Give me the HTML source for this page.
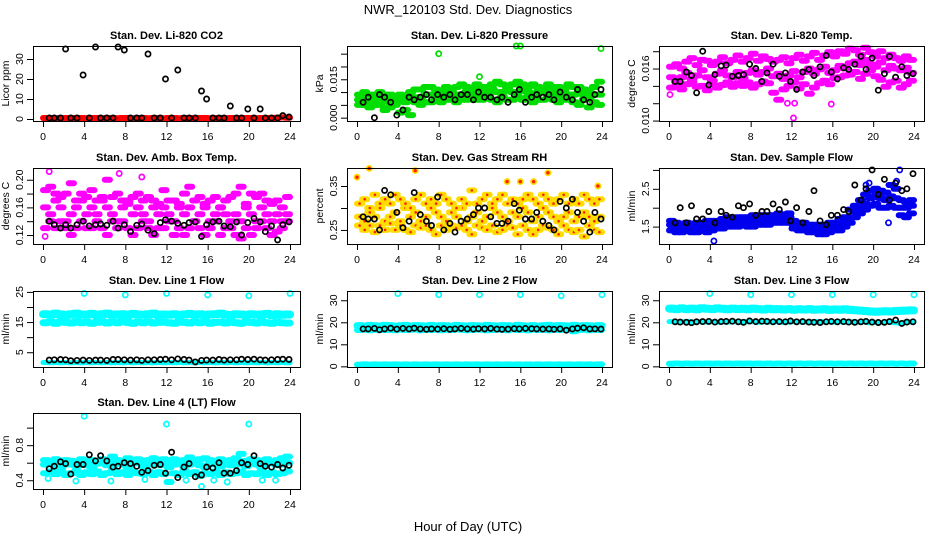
<!DOCTYPE html>
<html><head><meta charset="utf-8">
<style>
body{margin:0;background:#fff;}
svg{display:block;font-family:"Liberation Sans",sans-serif;}
.tt{font-weight:bold;font-size:11px;text-anchor:middle;}
.tk{font-size:10.5px;}
</style></head>
<body>
<svg id="chart" width="936" height="540" viewBox="0 0 936 540">
<text x="468" y="14" font-size="13" text-anchor="middle">NWR_120103  Std. Dev. Diagnostics</text>
<text x="468" y="531" font-size="13" text-anchor="middle">Hour of Day (UTC)</text>
</svg>
<script>
// shared hours
const cloudHours=[0.25,0.75,1.25,1.75,2.25,2.75,3.25,3.75,4.25,4.75,5.25,5.75,6.25,6.75,7.25,7.75,8.25,8.75,9.25,9.75,10.25,10.75,11.25,11.75,12.25,12.75,13.25,13.75,14.25,14.75,15.25,15.75,16.25,16.75,17.25,17.75,18.25,18.75,19.25,19.75,20.25,20.75,21.25,21.75,22.25,22.75,23.25,23.75];
const blackHours=[0.6,1.1,1.7,2.2,2.7,3.3,3.9,4.5,5.1,5.6,6.2,6.8,7.3,7.9,8.5,9.1,9.6,10.2,10.8,11.4,11.9,12.5,13.1,13.7,14.2,14.8,15.4,15.9,16.5,17.1,17.6,18.2,18.8,19.3,19.9,20.5,21.1,21.6,22.2,22.8,23.3,23.9];
const xTicks=[0,4,8,12,16,20,24];
const spikeHours=[4,8,12,16,20,24];

// P1 CO2
const co2Red=[0.5,0.5,0.4,0.5,0.5,0.4,0.5,0.5,0.4,0.5,0.5,0.4,0.5,0.5,0.4,0.5,0.5,0.4,0.5,0.5,0.4,0.5,0.5,0.4,0.5,0.5,0.4,0.5,0.5,0.4,0.5,0.5,0.4,0.5,0.5,0.4,0.5,0.5,0.4,0.5,0.5,0.4,0.5,0.5,0.4,0.6,0.8,0.6];
const co2Black=[0.5,0.5,0.5,35,0.5,0.5,22,0.5,36,0.5,0.5,0.5,36,34.5,0.5,0.5,0.5,32.5,0.5,0.5,20,0.5,24.5,0.5,0.5,0.5,14,10,0.5,0.5,0.5,6.5,0.5,0.5,5,0.5,5,0.5,0.5,0.5,1.7,1];
// P2 pressure (x1e-3 kPa)
const presA=[7,7,6,7,8,7,6,7,7,6,8,8,8,9,9,8,9,9,10,9,9,10,10,9,10,10,11,10,10,11,10,10,11,10,9,10,11,10,10,9,10,9,9,10,9,8,9,9];
const presB=[5,5,4,5,5,3,4,5,2,3,1,6,5,6,6,7,6,7,7,6,7,7,8,7,7,8,7,6,8,7,7,8,7,8,6,7,7,8,7,6,7,7,6,5,7,4,6,5];
const presC=[9,10,9,9,10,9,9,8,9,8,10,11,11,12,12,11,10,12,11,12,13,12,11,13,12,12,13,14,13,12,13,14,13,12,13,12,11,13,12,12,11,13,12,12,11,10,12,14];
const presOutX=[8,12,15.6,16,23.9], presOutY=[25,16,28,28,27];
const presBlack=[6,8,0,9,8,6,1,3,8,7,8,9,7,9,8,9,7,9,9,7,10,8,8,7,8,6,9,11,6,8,9,8,9,7,10,8,7,11,7,6,9,11];
// P3 Li-820 temp (x1e-3 C)
const tmpA=[15,14.5,15,15.5,14.8,15.2,15.8,15,14.6,15.4,15.8,15.2,15,15.6,14.9,15.5,15.8,15.3,15.6,16,15.1,15.4,14.8,15.2,15.7,15,15.6,16,15.4,15.9,16.2,15.5,15.8,16.3,16,16.6,16.8,16.4,17,16.5,16.2,16.7,15.8,16.3,16,15.8,16.1,15.5];
const tmpB=[13.8,14,13.6,14.2,14.4,13.9,14,13.5,14.2,13.8,14.1,14.4,13.9,14.3,14,14.4,13.8,14.2,14.5,14.3,13.2,12.4,13.6,14,14.4,13.7,14.2,13.1,13.8,14.3,14.6,14.2,14.9,15,15.2,15.3,15.6,14.8,15.4,15.8,15.1,14.7,13.9,14.4,14.6,13.8,14.2,14.6];
const tmpC=[16.2,16.5,16,16.8,17.2,16.4,17,16.9,16.4,16.8,17.3,16.6,17,17.5,16.8,17.2,17.7,16.9,17.4,17.1,16.8,17,17.3,16.6,17.2,17.6,16.9,17.4,17.8,17,17.5,17.9,17.4,18,17.7,18.3,18.1,17.6,18.4,17.9,17.4,18,17.2,17.6,17.2,16.9,17.4,17];
const tmpOutX=[0.1,11.6,12.2,12.3,15.9], tmpOutY=[13,12,10.3,12,11.9];
const tmpBlack=[14.5,14.5,15.6,15.2,13.2,18.0,14.1,15.3,16.3,16.4,15.1,15.2,15.3,16.5,16.0,14.5,15.5,16.5,15.1,15.5,14.5,13.6,15.6,15.9,15.2,16.2,17.5,15.6,14.8,16.1,15.9,16.5,17.4,15.9,17.2,13.5,15.4,17.4,15.0,16.2,15.2,15.4];
// P4 amb box (x1e-2 C)
const ambA=[16,15,17,16,14,15,16,17,15,16,15,17,16,15,14,16,17,15,16,15,14,16,15,16,15,14,16,15,16,14,15,16,14,15,16,15,14,15,14,16,15,14,16,15,14,15,14,15];
const ambB=[13,14,13,14,13,12,13,14,13,13,14,13,12,14,13,14,13,12,13,14,13,12,13,13,14,12,13,12,13,14,13,12,13,14,12,13,13,12,11.5,13,12,13,14,13,12,12.5,13,14];
const ambC=[18.5,19,18,17.5,18,19.5,17,18,17.5,18.5,17,17.5,20,17.5,18,17,16.5,17.5,18,17,17.5,17,16.5,18.5,17,17,16.5,18,19,17,17.5,16.5,17,17.5,16,17,17.5,18,19,16.5,18,17.5,18,17,16.5,17,16,17.5];
const ambOutX=[0.6,7.4,9.6,0.2,19.3], ambOutY=[21.2,20.9,20.4,11.8,11.8];
const ambBlack=[14,13.5,13,13.5,13,13.5,14,13.3,13.5,13.6,13.4,14,13,13.5,12.5,13.4,13.6,12.7,12.2,13.8,14.2,14,13.7,13.4,13.8,13.9,11.8,13.5,13.9,14,13.3,13.2,13.9,12,13.8,14.4,13.9,12.5,13.3,11.3,13.5,13.9];
// P5 RH (x1e-2)
const rhA=[28,27,29,28,30,27,28,29,27,30,28,29,27,28,30,29,28,27,29,28,30,27,28,29,27,28,30,29,28,27,29,28,30,29,27,28,30,29,28,27,28,29,27,28,29,28,27,28];
const rhB=[26,25,26,24.5,26,25,26.5,25,26,25,24.5,26,25.5,26,25,24,26,25,26,25.5,26,25,24,26,25.5,25,26,24.5,25,26,25.5,24,26,25,24,25,26,25.5,25,24,26,25,24.5,25,23.5,26,25,24.5];
const rhC=[31,32,30,33,31,32,31,33,32,31,30,32,33,31,32,31,33,32,31,30,32,31,34,31,32,33,31,32,33,31,32,31,32,33,32,31,33,32,31,32,33,31,32,31,33,32,31,32];
const rhOutX=[0,1.2,5.7,14.7,16,17.3,18.7,23.6], rhOutY=[37,39,38.5,36,36,36,38,35];
const rhBlack=[28,27.5,27.5,25,34,33,29,25.5,27,33.5,28.5,27,26,32.5,25,26.5,24.5,27,27.5,28.5,30,30,28,26.5,26.5,27,31,29.5,27.5,27.5,29,27,26,25,31.5,30,32,29,27,24.5,29,27.5];
// P6 sample flow
const sfA=[1.55,1.5,1.45,1.5,1.45,1.5,1.45,1.5,1.5,1.55,1.55,1.6,1.6,1.6,1.65,1.6,1.65,1.65,1.7,1.65,1.7,1.7,1.7,1.75,1.55,1.5,1.5,1.45,1.45,1.4,1.4,1.45,1.5,1.5,1.6,1.75,1.9,2.0,2.1,2.25,2.3,2.25,2.2,2.3,2.25,2.0,2.0,2.05];
const sfB=[1.4,1.35,1.35,1.4,1.35,1.35,1.4,1.35,1.4,1.45,1.45,1.5,1.5,1.5,1.55,1.5,1.5,1.55,1.55,1.55,1.6,1.6,1.6,1.6,1.45,1.4,1.4,1.35,1.35,1.3,1.3,1.35,1.4,1.4,1.5,1.6,1.75,1.85,1.95,2.05,2.1,2.0,2.0,2.05,2.0,1.8,1.75,1.85];
const sfC=[1.65,1.6,1.55,1.6,1.55,1.6,1.6,1.65,1.65,1.65,1.7,1.75,1.7,1.75,1.75,1.75,1.8,1.8,1.8,1.8,1.8,1.85,1.8,1.85,1.65,1.6,1.6,1.55,1.55,1.55,1.55,1.6,1.6,1.7,1.75,1.95,2.05,2.2,2.35,2.45,2.5,2.45,2.4,2.6,2.5,2.2,2.15,2.2];
const sfOutX=[4.4,19.3,19.6,21.5,22.3,22.6], sfOutY=[1.12,2.6,2.65,1.6,2.7,3.0];
const sfBlack=[1.6,2.0,1.6,2.05,1.7,1.7,1.9,1.6,1.9,1.8,1.75,2.05,2.0,2.1,1.8,1.9,1.9,2.1,1.95,2.15,1.65,2.0,1.6,1.9,2.45,1.65,1.55,1.8,1.8,1.95,1.9,2.6,2.2,2.5,3.0,2.35,2.75,2.2,2.65,2.45,2.5,2.9];
// P7 line 1
const l1Hi=[17.6,17.4,17.8,17.5,17.3,17.6,17.8,17.4,17.5,17.7,17.3,17.6,17.8,17.4,17.5,17.6,17.3,17.7,17.5,17.4,17.6,17.8,17.3,17.5,17.4,17.6,17.3,17.5,17.7,17.4,17.6,17.3,17.5,17.6,17.8,17.4,17.3,17.6,17.5,17.3,17.6,17.4,17.5,17.7,17.3,17.6,17.4,17.5];
const l1Lo=[14.8,15,14.6,15.1,14.9,14.7,15.2,14.8,15,14.6,14.9,15.1,14.7,15,14.8,15.2,14.9,14.6,15,14.8,15.1,14.7,14.9,15,14.8,14.6,15.1,14.9,14.7,15,14.8,15.2,14.6,14.9,15,14.7,15.1,14.8,14.6,15,14.9,14.7,15.1,14.8,14.6,15,14.8,14.7];
const l1Bot=[1.6,1.5,1.6,1.5,1.6,1.5,1.6,1.5,1.6,1.5,1.6,1.5,1.6,1.5,1.6,1.5,1.6,1.5,1.6,1.5,1.6,1.5,1.6,1.5,1.6,1.5,1.6,1.5,1.6,1.5,1.6,1.5,1.6,1.5,1.6,1.5,1.6,1.5,1.6,1.5,1.6,1.5,1.6,1.5,1.6,1.5,1.6,1.5];
const l1Spike=[24.5,24,24.5,24,23.7,24.5];
const l1Black=[2.4,2.5,2.6,2.5,2.2,2.3,2.4,2.3,2.4,2.4,2.3,2.6,2.6,2.5,2.4,2.5,2.3,2.5,2.5,2.6,2.7,2.5,2.8,2.6,2.4,1.8,2.3,2.4,2.4,2.6,2.4,2.5,2.5,2.7,2.6,2.7,2.5,2.4,2.5,2.6,2.7,2.6];
// P8 line 2
const l2Hi=[18.5,18.2,18.6,18.4,18.3,18.6,18.5,18.2,18.4,18.6,18.3,18.5,18.4,18.2,18.6,18.3,18.5,18.4,18.2,18.6,18.4,18.3,18.5,18.4,18.2,18.6,18.4,18.3,18.5,18.4,18.2,18.6,18.4,18.3,18.5,18.2,18.4,18.6,18.3,18.5,18.4,18.2,18.6,18.3,18.5,18.4,18.2,18.5];
const l2Lo=[16.5,16.7,16.4,16.6,16.8,16.5,16.6,16.4,16.7,16.5,16.6,16.8,16.4,16.6,16.5,16.7,16.4,16.6,16.5,16.8,16.6,16.4,16.5,16.7,16.6,16.4,16.5,16.7,16.6,16.4,16.8,16.5,16.6,16.4,16.7,16.5,16.6,16.4,16.7,16.5,16.6,16.8,15.9,16.5,16.6,16.4,16.7,16.5];
const l2Bot=[0.8,0.9,0.8,0.9,0.8,0.9,0.8,0.9,0.8,0.9,0.8,0.9,0.8,0.9,0.8,0.9,0.8,0.9,0.8,0.9,0.8,0.9,0.8,0.9,0.8,0.9,0.8,0.9,0.8,0.9,0.8,0.9,0.8,0.9,0.8,0.9,0.8,0.9,0.8,0.9,0.8,0.9,0.8,0.9,0.8,0.9,0.8,0.9];
const l2Spike=[33,32.5,32.5,32.5,32,32.5];
const l2Black=[17,17,17.2,16.6,17,17.3,16.9,17.2,17,17.3,17,16.8,17,16.9,17.1,16.8,17,17.2,17,16.9,17.1,17,17.2,16.9,16.8,16.9,17.1,17,17.2,17.1,17,16.9,17,16.8,17,16.4,17,17.3,17.5,17,17,16.9];
// P9 line 3
const l3Hi=[26.2,26,26.3,26,26.2,25.9,26.4,26.1,26,26.3,26.1,25.9,26.2,26,26.1,25.9,26.2,26,25.8,26.1,25.9,26,25.8,26,25.7,25.9,25.8,26,25.7,25.8,25.9,25.6,25.8,25.7,25.9,25.6,25.5,25.3,25.1,24.9,24.8,24.9,25.0,24.9,25.1,25.2,25.3,25.4];
const l3Lo=[20.3,20.1,20.2,20.4,20,20.2,20.3,20.1,20.2,20,20.3,20.1,20.2,20.4,20.1,20.3,20.2,20,20.2,20.1,20.3,20.2,20,20.1,20.3,20.2,20.1,20,20.2,20.3,20.1,20.2,20,20.2,20.1,20.3,20,20.1,20.2,19.8,20,19.9,20.1,20,19.8,19.6,20,20.2];
const l3Bot=[1.2,1.3,1.2,1.3,1.2,1.3,1.2,1.3,1.2,1.3,1.2,1.3,1.2,1.3,1.2,1.3,1.2,1.3,1.2,1.3,1.2,1.3,1.2,1.3,1.2,1.3,1.2,1.3,1.2,1.3,1.2,1.3,1.2,1.3,1.2,1.3,1.2,1.3,1.2,1.3,1.2,1.3,1.2,1.3,1.2,1.3,1.2,1.3];
const l3Spike=[33,32.5,32.5,32.5,32.5,32.5];
const l3Black=[20.2,20.1,20,19.8,20.2,20.3,20.4,20.1,20.3,20.4,20.5,20.2,20,20.6,20.3,20.5,20.4,20.2,20.3,20.2,20.6,20.2,20.3,20.1,20,19.9,20.2,20.4,20.2,20.3,20.1,20,20.2,20.4,20.1,19.9,20,20.3,21,19.5,20.1,20.2];
// P10 line 4
const l4A=[0.58,0.6,0.57,0.55,0.6,0.58,0.56,0.6,0.57,0.55,0.59,0.6,0.57,0.56,0.6,0.58,0.55,0.59,0.6,0.56,0.58,0.6,0.57,0.59,0.55,0.58,0.6,0.56,0.58,0.6,0.57,0.55,0.6,0.58,0.56,0.59,0.57,0.6,0.58,0.56,0.6,0.58,0.55,0.59,0.6,0.57,0.58,0.6];
const l4B=[0.48,0.5,0.47,0.5,0.46,0.48,0.5,0.46,0.49,0.47,0.5,0.46,0.48,0.5,0.47,0.49,0.46,0.5,0.48,0.47,0.5,0.46,0.49,0.47,0.38,0.48,0.46,0.5,0.47,0.49,0.45,0.48,0.47,0.5,0.46,0.49,0.47,0.48,0.5,0.46,0.48,0.47,0.5,0.46,0.49,0.47,0.48,0.5];
const l4C=[0.63,0.62,0.64,0.61,0.63,0.62,0.6,0.64,0.62,0.63,0.61,0.64,0.62,0.67,0.63,0.62,0.65,0.63,0.64,0.61,0.63,0.65,0.62,0.64,0.6,0.64,0.62,0.63,0.66,0.62,0.64,0.65,0.63,0.61,0.64,0.62,0.63,0.65,0.7,0.62,0.64,0.63,0.62,0.64,0.61,0.63,0.65,0.67];
const l4OutX=[4,12,20,0.5,3.2,6.6,9.9,13.9,15.4,16.6,17.9,21.3,22.6], l4OutY=[1.13,1.04,1.04,0.42,0.39,0.39,0.41,0.4,0.33,0.4,0.38,0.4,0.4];
const l4Black=[0.53,0.56,0.61,0.59,0.47,0.58,0.58,0.69,0.62,0.68,0.62,0.55,0.56,0.6,0.59,0.56,0.49,0.51,0.57,0.58,0.48,0.72,0.43,0.55,0.59,0.44,0.46,0.55,0.54,0.6,0.48,0.48,0.51,0.6,0.58,0.68,0.59,0.56,0.55,0.58,0.54,0.57];

const NS='http://www.w3.org/2000/svg';
const svg=document.getElementById('chart');
function mk(tag,attrs,parent){const e=document.createElementNS(NS,tag);for(const k in attrs)e.setAttribute(k,attrs[k]);(parent||svg).appendChild(e);return e;}

const colX=[[33,300],[347,612],[659,924]];
const rowY=[[46,121],[168,244],[291,367],[413,489]];

function panel(p){
  const [x0,x1]=colX[p.col],[y0,y1]=rowY[p.row];
  const g=mk('g',{});
  
  
  const xs=v=>x0+10+(v/24)*(x1-x0-20);
  const ys=v=>y1-(v-p.ymin)/(p.ymax-p.ymin)*(y1-y0);
  const t=mk('text',{x:(x0+x1)/2,y:y0-7,class:'tt'},g);t.textContent=p.title;
  
  
  for(const s of p.series){
    const sg=mk('g',{fill:s.fill||'none',stroke:s.color,'stroke-width':s.sw||1.7,'stroke-linecap':'round'},g);
    
    
    s.y.forEach((v,i)=>{
      let c;
      if(s.smear){
        // cloud point drawn as a smeared blob spanning its quarter-hour
        c=mk('line',{x1:xs(s.x[i]-0.25).toFixed(1),x2:xs(s.x[i]+0.25).toFixed(1),y1:ys(v).toFixed(1),y2:ys(v).toFixed(1),'stroke-width':s.smear},sg);
        if(s.dot){const d=mk('circle',{cx:xs(s.x[i]).toFixed(1),cy:ys(v).toFixed(1),r:1.3,fill:s.dot,stroke:'none'},sg);
          
          }
      } else {
        c=mk('circle',{cx:xs(s.x[i]).toFixed(1),cy:ys(v).toFixed(1),r:s.r||2.6},sg);
      }
      
      
    });
  }
  const b=mk('rect',{x:x0+0.5,y:y0+0.5,width:x1-x0,height:y1-y0,fill:'none',stroke:'#000','stroke-width':1},g);
  
  
  const xa=mk('g',{stroke:'#000','stroke-width':1},g);
  
  
  mk('line',{x1:xs(0),x2:xs(24),y1:y1+0.5,y2:y1+0.5},xa);
  xTicks.forEach(v=>{
    mk('line',{x1:xs(v)+0.5,x2:xs(v)+0.5,y1:y1,y2:y1+6},xa);
    const tx=mk('text',{x:xs(v),y:y1+19,'text-anchor':'middle',class:'tk',stroke:'none'},xa);tx.textContent=v;
    
    
  });
  const ya=mk('g',{stroke:'#000','stroke-width':1},g);
  
  
  mk('line',{x1:x0+0.5,x2:x0+0.5,y1:ys(p.yt[0]),y2:ys(p.yt[p.yt.length-1])},ya);
  p.yt.forEach((v,i)=>{
    mk('line',{x1:x0-6,x2:x0,y1:ys(v)+0.5,y2:ys(v)+0.5},ya);
    if(p.yl[i]){const ty=ys(v),tx=x0-10;
      const tl=mk('text',{x:tx,y:ty,'text-anchor':'middle',class:'tk',stroke:'none',transform:`rotate(-90 ${tx} ${ty})`},ya);tl.textContent=p.yl[i];
      
      }
  });
  const lx=x0-24,ly=(y0+y1)/2;
  const yl=mk('text',{x:lx,y:ly,'text-anchor':'middle','font-size':'10.5',transform:`rotate(-90 ${lx} ${ly})`},g);yl.textContent=p.ylab;
  
  
}
const CY='#00ffff',BK='#000';
function cl(name,y,color,extra){return Object.assign({name,x:cloudHours,y,color,smear:6},extra||{});}
function bl(y){return {name:'black-series',x:blackHours,y,color:BK};}
panel({name:'panel-co2',col:0,row:0,title:'Stan. Dev. Li-820 CO2',ylab:'Licor ppm',ymin:-1,ymax:36.5,yt:[0,10,20,30],yl:['0','10','20','30'],
 series:[cl('red-series',co2Red,'#ff0000',{smear:6}),bl(co2Black)]});
panel({name:'panel-pressure',col:1,row:0,title:'Stan. Dev. Li-820 Pressure',ylab:'kPa',ymin:-1.3,ymax:28,yt:[0,5,10,15,20,25],yl:['0.000','','','0.015','',''],
 series:[cl('green-a',presA,'#00dd00'),cl('green-b',presB,'#00dd00'),cl('green-c',presC,'#00dd00'),{name:'green-outliers',x:presOutX,y:presOutY,color:'#00dd00'},bl(presBlack)]});
panel({name:'panel-temp',col:2,row:0,title:'Stan. Dev. Li-820 Temp.',ylab:'degrees C',ymin:9.95,ymax:18.6,yt:[10,12,14,16,18],yl:['0.010','','','0.016',''],
 series:[cl('magenta-a',tmpA,'#ff00ff'),cl('magenta-b',tmpB,'#ff00ff'),cl('magenta-c',tmpC,'#ff00ff'),{name:'magenta-outliers',x:tmpOutX,y:tmpOutY,color:'#ff00ff'},bl(tmpBlack)]});
panel({name:'panel-ambbox',col:0,row:1,title:'Stan. Dev. Amb. Box Temp.',ylab:'degrees C',ymin:10.7,ymax:21.7,yt:[12,14,16,18,20],yl:['0.12','','0.16','','0.20'],
 series:[cl('magenta-a',ambA,'#ff00ff'),cl('magenta-b',ambB,'#ff00ff'),cl('magenta-c',ambC,'#ff00ff'),{name:'magenta-outliers',x:ambOutX,y:ambOutY,color:'#ff00ff'},bl(ambBlack)]});
panel({name:'panel-rh',col:1,row:1,title:'Stan. Dev. Gas Stream RH',ylab:'percent',ymin:21.8,ymax:39.1,yt:[25,30,35],yl:['0.25','','0.35'],
 series:[cl('rh-a',rhA,'#ffdd00',{dot:'#ff2200'}),cl('rh-b',rhB,'#ffdd00',{dot:'#ff2200'}),cl('rh-c',rhC,'#ffdd00',{dot:'#ff2200'}),{name:'rh-outliers',x:rhOutX,y:rhOutY,color:'#ffdd00',fill:'#ff2200'},bl(rhBlack)]});
panel({name:'panel-sampleflow',col:2,row:1,title:'Stan. Dev. Sample Flow',ylab:'ml/min',ymin:1.04,ymax:3.05,yt:[1.5,2,2.5,3],yl:['1.5','','2.5',''],
 series:[cl('blue-a',sfA,'#0000ee'),cl('blue-b',sfB,'#0000ee'),cl('blue-c',sfC,'#0000ee'),{name:'blue-outliers',x:sfOutX,y:sfOutY,color:'#0000ee'},bl(sfBlack)]});
panel({name:'panel-line1',col:0,row:2,title:'Stan. Dev. Line 1 Flow',ylab:'ml/min',ymin:0.1,ymax:25.3,yt:[5,10,15,20,25],yl:['5','','15','','25'],
 series:[cl('cyan-hi',l1Hi,CY,{smear:8}),cl('cyan-lo',l1Lo,CY,{smear:7}),cl('cyan-bot',l1Bot,CY,{smear:5}),{name:'cyan-spikes',x:spikeHours,y:l1Spike,color:CY},bl(l1Black)]});
panel({name:'panel-line2',col:1,row:2,title:'Stan. Dev. Line 2 Flow',ylab:'ml/min',ymin:-0.3,ymax:34.2,yt:[0,10,20,30],yl:['0','10','20','30'],
 series:[cl('cyan-hi',l2Hi,CY,{smear:7}),cl('cyan-lo',l2Lo,CY,{smear:6}),cl('cyan-bot',l2Bot,CY,{smear:6}),{name:'cyan-spikes',x:spikeHours,y:l2Spike,color:CY},bl(l2Black)]});
panel({name:'panel-line3',col:2,row:2,title:'Stan. Dev. Line 3 Flow',ylab:'ml/min',ymin:-0.3,ymax:34.2,yt:[0,10,20,30],yl:['0','10','20','30'],
 series:[cl('cyan-hi',l3Hi,CY,{smear:8}),cl('cyan-lo',l3Lo,CY,{smear:5}),cl('cyan-bot',l3Bot,CY,{smear:6}),{name:'cyan-spikes',x:spikeHours,y:l3Spike,color:CY},bl(l3Black)]});
panel({name:'panel-line4',col:0,row:3,title:'Stan. Dev. Line 4 (LT) Flow',ylab:'ml/min',ymin:0.3,ymax:1.167,yt:[0.4,0.6,0.8,1.0],yl:['0.4','','0.8',''],
 series:[cl('cyan-a',l4A,CY),cl('cyan-b',l4B,CY),cl('cyan-c',l4C,CY),{name:'cyan-outliers',x:l4OutX,y:l4OutY,color:CY},bl(l4Black)]});
</script>
</body></html>
